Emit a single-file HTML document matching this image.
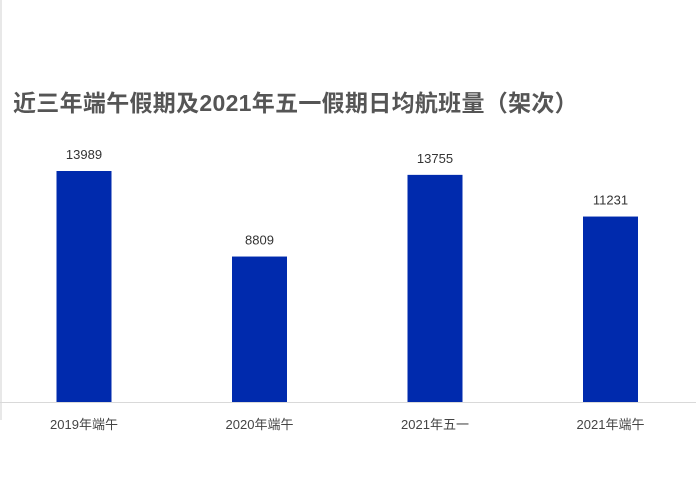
<!DOCTYPE html>
<html><head><meta charset="utf-8"><style>
body{margin:0;width:696px;height:477px;background:#fff;overflow:hidden;font-family:"Liberation Sans","Noto Sans CJK SC",sans-serif;}
#c{position:absolute;left:0;top:0}
.title{position:absolute;left:13px;top:84px;font-size:23px;font-weight:bold;color:#555;white-space:nowrap;letter-spacing:0.3px;font-family:"Liberation Sans","Noto Sans CJK SC",sans-serif;}
.edge{position:absolute;left:0;top:0;width:2px;height:420px;background:#e8e8e8}
</style></head><body>
<div class="edge"></div>
<div class="title">近三年端午假期及2021年五一假期日均航班量（架次）</div>
<svg id="c" width="696" height="477"></svg>
<script>
const categories=["2019年端午","2020年端午","2021年五一","2021年端午"];
const values=[13989,8809,13755,11231];
const svg=document.getElementById('c');
const NS='http://www.w3.org/2000/svg';
const base=402, scale=231/13989;
const y=v=>base-v*scale;
const x0=84, step=175.5, bw=55;
const xc=i=>x0+i*step;
function mk(t,a){const e=document.createElementNS(NS,t);for(const k in a)e.setAttribute(k,a[k]);svg.appendChild(e);return e;}
const ax=mk('line',{x1:0,x2:696,y1:base+0.5,y2:base+0.5,stroke:'#d9d9d9','stroke-width':1});


categories.forEach((c,i)=>{
  const r=mk('rect',{x:xc(i)-bw/2,y:y(values[i]),width:bw,height:base-y(values[i]),fill:'#002aad'});
  
  
  const v=mk('text',{x:xc(i),y:y(values[i])-12,'text-anchor':'middle','font-size':13,fill:'#333'});
  v.textContent=values[i];
  
  
  const l=mk('text',{x:xc(i),y:429,'text-anchor':'middle','font-size':13,fill:'#444','font-family':'Liberation Sans, Noto Sans CJK SC, sans-serif'});
  l.textContent=c;
  
  
});
</script>
</body></html>
